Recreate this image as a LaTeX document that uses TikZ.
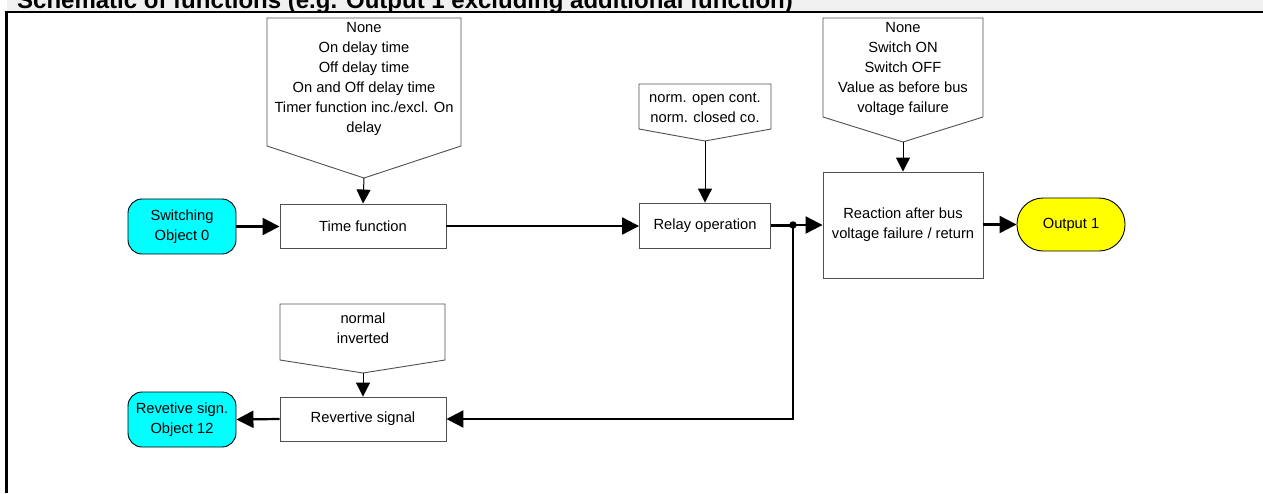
\documentclass[tikz,border=0pt]{standalone}
\usepackage{fontspec}
\setmainfont{Liberation Sans}
\usetikzlibrary{arrows.meta}
\definecolor{boxgray}{HTML}{505050}
\definecolor{titlegray}{HTML}{F0F0F0}
\definecolor{objcyan}{HTML}{00FFFF}
\definecolor{outyellow}{HTML}{FFFF00}
\begin{document}
\begin{tikzpicture}[x=1pt,y=-1pt,
  txt/.style={font=\fontsize{14.7}{20}\selectfont, align=center, inner sep=0pt},
  fbox/.style={draw=boxgray, line width=0.9pt, fill=white, txt},
  obj/.style={draw=black, line width=0.9pt, fill=objcyan, rounded corners=14pt, txt, minimum width=108pt, minimum height=55pt},
  outobj/.style={draw=black, line width=0.9pt, fill=outyellow, rounded corners=26pt, txt, minimum width=108pt, minimum height=53pt},
  pent/.style={draw=boxgray, line width=0.9pt, fill=white},
  conn/.style={line width=2.2pt, -{Triangle[length=17pt,width=17pt]}},
  plainconn/.style={line width=2.2pt},
  thinconn/.style={line width=1pt, -{Triangle[length=14pt,width=14pt]}}
]
\useasboundingbox (0,0) rectangle (1263,493);
\clip (0,0) rectangle (1263,493);
\fill[white] (0,0) rectangle (1263,493);
% title bar
\fill[titlegray] (7,0) rectangle (1263,11);
\node[anchor=base west, inner sep=0pt, font=\fontsize{24}{28}\bfseries\selectfont] (title) at (17,8) {Schematic of functions (e.g. Output 1 excluding additional function)};
\draw[line width=2pt] (5,11.5) -- (1263,11.5);
\draw[line width=3pt] (6.5,10.5) -- (6.5,493);

% pentagons (parameter boxes)
\draw[pent] (267,18) -- (461,18) -- (461,146) -- (364,178) -- (267,146) -- cycle;
\coordinate (ptime) at (364,178);
\node[txt] (ptimetxt) at (364,79) {None\\On delay time\\Off delay time\\On and Off delay time\\Timer function inc./excl. On\\delay};

\draw[pent] (639,84) -- (771,84) -- (771,129) -- (705,141) -- (639,129) -- cycle;
\coordinate (prelay) at (705,141);
\node[txt] (prelaytxt) at (705,108) {norm. open cont.\\norm. closed co.};

\draw[pent] (823,18) -- (983,18) -- (983,117) -- (903,142) -- (823,117) -- cycle;
\coordinate (preact) at (903,142);
\node[txt] (preacttxt) at (903,69) {None\\Switch ON\\Switch OFF\\Value as before bus\\voltage failure};

\draw[pent] (280,304) -- (445,304) -- (445,360) -- (363,373) -- (280,360) -- cycle;
\coordinate (prev) at (363,373);
\node[txt] (prevtxt) at (363,328) {normal\\inverted};

% function boxes
\node[obj] (sw) at (182,226.5) {Switching\\Object 0};
\node[fbox, minimum width=166pt, minimum height=44pt] (time) at (363,226) {Time function};
\node[fbox, minimum width=131pt, minimum height=45pt] (relay) at (705,225.5) {Relay operation};
\node[fbox, minimum width=160pt, minimum height=106pt] (react) at (903,225) {Reaction after bus\\voltage failure / return};
\node[outobj] (out) at (1071,224.5) {Output 1};
\node[fbox, minimum width=166pt, minimum height=44pt] (revsig) at (363,419) {Revertive signal};
\node[obj] (revobj) at (182,419.5) {Revetive sign.\\Object 12};
\node[circle, fill=black, inner sep=0pt, minimum size=7.5pt] (dot) at (793,225) {};

% connectors
\draw[conn] (sw.east) -- (sw.east -| time.west);
\draw[conn] (time.east) -- (time.east -| relay.west);
\draw[plainconn] (relay.east) -- (relay.east -| dot.center);
\draw[conn] (dot.center) -- (react.west |- dot.center);
\draw[conn] (react.east |- out.west) -- (out.west);
\draw[conn] (dot.center) |- (revsig.east);
\draw[conn] (revsig.west) -- (revobj.east);

\draw[thinconn] (ptime) -- (time.north);
\draw[thinconn] (prelay) -- (prelay |- relay.north);
\draw[thinconn] (preact) -- (react.north);
\draw[thinconn] (prev) -- (revsig.north);
\end{tikzpicture}
\end{document}
